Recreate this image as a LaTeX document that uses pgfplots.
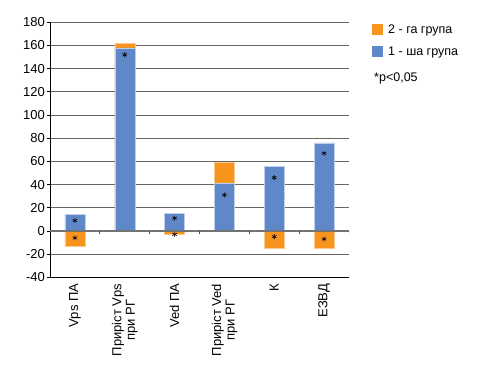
\documentclass[border=0pt]{standalone}
\usepackage{fontspec}
\setmainfont{Liberation Sans}
\usepackage{pgfplots}
\pgfplotsset{compat=1.18}
\definecolor{bl}{HTML}{5F88C9}
\definecolor{orc}{HTML}{F7941E}
\begin{document}
\begin{tikzpicture}[x=1pt,y=1pt]
\path[use as bounding box] (0,0) rectangle (478,369);
\begin{axis}[
  at={(50pt,91.7pt)}, anchor=south west,
  scale only axis, width=299pt, height=255pt,
  xmin=-0.5, xmax=5.5, ymin=-40, ymax=180,
  ytick={-40,-20,...,180},
  xtick={0,1,2,3,4,5},
  xticklabels={Vps ПА, {Приріст Vps\\при РГ}, Ved ПА, {Приріст Ved\\при РГ}, К, ЕЗВД},
  axis x line*=bottom, axis y line*=left,
  axis line style={-, black, line width=1pt},
  ymajorgrids, grid style={black!60, line width=0.8pt},
  xtick style={draw=none},
  ytick style={black, line width=0.8pt},
  tick align=outside, major tick length=3pt,
  /pgf/number format/assume math mode=true,
  yticklabel style={font=\fontsize{13}{15}\selectfont, inner sep=2pt},
  xticklabel style={rotate=90, anchor=east, align=center, font=\fontsize{13}{13.5}\selectfont},
  legend style={at={(1.077,1)}, anchor=north west, draw=none, fill=none, inner sep=0pt,
    font=\fontsize{12.5}{14}\selectfont, row sep=8pt, cells={anchor=west}},
  legend image code/.code={\fill[#1, draw=none] (0pt,-5.5pt) rectangle (11pt,5.5pt);},
]
\addplot[ybar, bar width=20pt, bar shift=0pt, fill=orc, draw=orc!50!white, line width=0.5pt, forget plot]
  coordinates {(0,-13) (1,162) (2,-3) (3,59) (4,-15) (5,-15)};
\addplot[ybar, bar width=20pt, bar shift=0pt, fill=bl, draw=bl!40!white, line width=0.5pt, forget plot]
  coordinates {(0,14) (1,158) (2,15) (3,41) (4,56) (5,76)};
\draw[black!55, line width=1.6pt] (axis cs:-0.5,0) -- (axis cs:5.5,0);
\pgfplotsinvokeforeach{0.5,1.5,2.5,3.5,4.5,5.5}{
  \draw[black!70, line width=1pt] (axis cs:#1,0) -- ++(0pt,-3pt);
}
\addplot[only marks, mark=asterisk, mark size=2.6pt, black, mark options={line width=0.6pt}, forget plot]
  coordinates {(0,9) (0,-6) (1,152) (2,11) (2,-3) (3,31) (4,46) (4,-5) (5,67) (5,-7)};
\addlegendimage{fill=orc}
\addlegendentry{\hspace{3pt}2 - га група}
\addlegendimage{fill=bl}
\addlegendentry{\hspace{3pt}1 - ша група}
\addlegendimage{empty legend}
\addlegendentry{\raisebox{-13pt}[0pt][13pt]{\hspace{-11pt}*p<0,05}}
\end{axis}
\end{tikzpicture}
\end{document}
